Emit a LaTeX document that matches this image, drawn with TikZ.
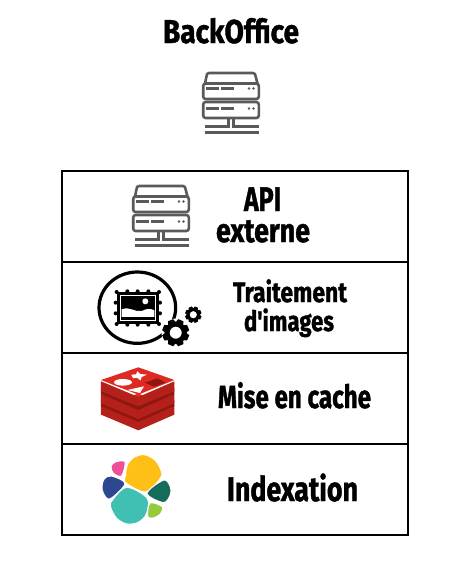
\documentclass[tikz,border=0pt]{standalone}
\usepackage{fontspec}
\usepackage{graphicx}
\setmainfont{Fira Sans}[BoldFeatures={FakeBold=1.4}]
\newfontfamily\plainfira{Fira Sans}[BoldFeatures={FakeBold=1.4}]
\definecolor{srv}{HTML}{5A5A58}
\definecolor{rtop}{HTML}{DF2A22}
\definecolor{rside}{HTML}{B5201A}
\definecolor{rdark}{HTML}{8E1710}
\definecolor{epink}{HTML}{F04E98}
\definecolor{eyellow}{HTML}{FEC017}
\definecolor{eblue}{HTML}{2D4891}
\definecolor{edark}{HTML}{176B5A}
\definecolor{eteal}{HTML}{40C0B2}
\definecolor{elime}{HTML}{97C93C}
\tikzset{
  rowbox/.style={draw=black,line width=2pt,minimum width=346pt,minimum height=91pt,inner sep=0pt,outer sep=0pt,anchor=north west},
  lab/.style={inner sep=0pt,outer sep=0pt,anchor=base west,text=black},
  blob/.style={smooth cycle,tension=0.55},
  gapline/.style={draw=white,line width=1.1pt},
  server/.pic={
    \draw[srv,line width=2.6pt,line join=round] (3,11.5) -- (5,2) to[out=70,in=180] (7,1) -- (51,1) to[out=0,in=110] (53,2) -- (55.5,11.5);
    \draw[srv,line width=2.6pt,rounded corners=2.5pt] (1.2,11.5) rectangle (56.8,27);
    \draw[srv,line width=2.6pt,rounded corners=2.5pt] (1.2,30) rectangle (56.8,46);
    \foreach \yy in {16.5,36.5}{
      \fill[srv] (4,\yy-1.5) rectangle (17,\yy+1.5);
      \fill[srv] (19,\yy-1.5) rectangle (32,\yy+1.5);
      \fill[srv] (47,\yy) circle (1.3);
      \fill[srv] (51.5,\yy) circle (1.3);
    }
    \draw[srv,line width=2.2pt] (26.5,46) -- (26.5,54.5) -- (2.5,54.5);
    \draw[srv,line width=2.2pt] (31.5,46) -- (31.5,54.5) -- (57,54.5);
    \draw[srv,line width=2.2pt] (2.5,60.5) -- (57,60.5);
  }
}
\newcommand{\geardraw}{%
  \foreach \a in {0,45,...,315}{
    \fill[black,rotate=\a+22.5] (-0.30,0.70) -- (-0.21,1) -- (0.21,1) -- (0.30,0.70) -- cycle;
  }
  \fill[black,even odd rule] (0,0) circle (0.82) (0,0) circle (0.45);
}
\begin{document}
\begin{tikzpicture}[x=1pt,y=-1pt]
\useasboundingbox (0,0) rectangle (461,576);
% boxes
\node[rowbox] (r1) at (62,171) {};
\node[rowbox] (r2) at (62,262) {};
\node[rowbox] (r3) at (62,353) {};
\node[rowbox] (r4) at (62,444) {};
% labels
\node[lab] (t0) at (163,43) {\resizebox{136pt}{\height}{\fontsize{33pt}{33pt}\selectfont\bfseries BackOffice}};
\node[lab] (t1) at (244,211) {\resizebox{37pt}{\height}{\fontsize{34pt}{34pt}\selectfont\bfseries API}};
\node[lab] (t2) at (216,242) {\resizebox{94pt}{\height}{\fontsize{33pt}{33pt}\selectfont\bfseries externe}};
\node[lab] (t3) at (233,302) {\resizebox{114pt}{\height}{\fontsize{28pt}{28pt}\selectfont\bfseries Traitement}};
\node[lab] (t4) at (244,331) {\resizebox{90pt}{\height}{\fontsize{28pt}{28pt}\selectfont\plainfira\bfseries d'images}};
\node[lab] (t5) at (218,408) {\resizebox{153pt}{\height}{\fontsize{32pt}{32pt}\selectfont\bfseries Mise en cache}};
\node[lab] (t6) at (227,501) {\resizebox{131pt}{\height}{\fontsize{34pt}{34pt}\selectfont\bfseries Indexation}};
% servers
\pic at (202,72) {server};
\pic at (132,185) {server};
% picture icon (zoom coordinates, 1/3 scale)
\begin{scope}[shift={(85,262)},x=.3333pt,y=-.3333pt]
  \draw[black,line width=3.2pt] (157,137) circle [x radius=115,y radius=107];
  \fill[black] (95,90) rectangle (222,186);
  \foreach \px/\py in {95/90,222/90,95/186,222/186,127/88,158/88,190/88,127/188,158/188,190/188,92/122,92/154,225/122,225/154}{
    \fill[black] (\px,\py) circle (6);
  }
  \draw[white,line width=0.9pt] (105,101) rectangle (212,176);
  \fill[white] (110,142) .. controls (135,132) and (150,152) .. (170,147) .. controls (185,140) and (195,138) .. (208,145) -- (208,165) -- (110,165) -- cycle;
  \fill[white] (181,118) circle (9);
\end{scope}
\begin{scope}[shift={(175.7,332.7)},x=13.5pt,y=13.5pt]
  \fill[white] (0,0) circle (1.05);
  \geardraw
\end{scope}
\begin{scope}[shift={(193.3,314.7)},x=8.2pt,y=8.2pt]
  \geardraw
\end{scope}
% redis
\begin{scope}[shift={(85,262)},x=.3333pt,y=-.3333pt]
  \fill[rside] (48,430) -- (160,478) -- (268,430) -- (268,458) -- (160,505) -- (48,458) -- cycle;
  \fill[rtop] (48,430) -- (160,395) -- (268,430) -- (160,478) -- cycle;
  \fill[rdark] (48,415) -- (160,462) -- (268,415) -- (268,432) -- (160,480) -- (48,432) -- cycle;
  \fill[rside] (48,395) -- (160,442) -- (268,395) -- (268,424) -- (160,471) -- (48,424) -- cycle;
  \fill[rdark] (48,378) -- (160,425) -- (268,378) -- (268,396) -- (160,444) -- (48,396) -- cycle;
  \fill[rside] (48,358) -- (160,405) -- (268,358) -- (268,388) -- (160,433) -- (48,388) -- cycle;
  \fill[rtop] (48,354) -- (160,316) -- (268,354) -- (160,398) -- cycle;
  \fill[white] (114,361) circle [x radius=27,y radius=10];
  \fill[white] (139,338) -- (153,337) -- (157,328) -- (165,336) -- (186,338) -- (170,345) -- (167,355) -- (155,347) -- (144,349) -- cycle;
  \fill[white] (127,384) -- (177,373) -- (165,393) -- cycle;
  \fill[rdark] (180,362) -- (217,349) -- (241,362) -- (207,374) -- cycle;
\end{scope}
% elastic
\begin{scope}[shift={(85,440)},x=.3333pt,y=-.3333pt]
  \filldraw[fill=epink,gapline] plot[blob] coordinates {(78,80) (90,66) (120,65) (110,108) (85,100)};
  \filldraw[fill=eyellow,gapline] plot[blob] coordinates {(121,108) (128,72) (150,50) (178,44) (208,58) (226,85) (228,112) (182,156) (122,128)};
  \filldraw[fill=eblue,gapline] plot[blob] coordinates {(58,116) (80,108) (120,131) (75,177) (55,160) (51,138)};
  \filldraw[fill=edark,gapline] plot[blob] coordinates {(236,120) (256,140) (256,165) (235,188) (186,160)};
  \filldraw[fill=eteal,gapline] plot[blob] coordinates {(125,142) (187,175) (184,222) (160,247) (125,252) (95,235) (78,205) (80,183)};
  \filldraw[fill=elime,gapline] plot[blob] coordinates {(195,189) (232,200) (226,222) (205,234) (188,230)};
\end{scope}
\end{tikzpicture}
\end{document}
